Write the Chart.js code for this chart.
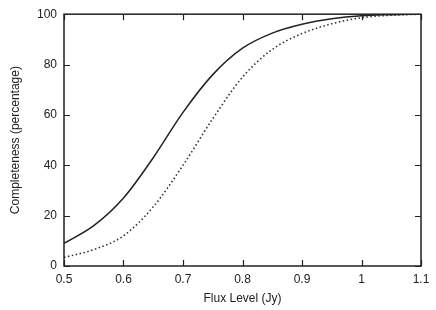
<!DOCTYPE html>
<html>
<head>
<meta charset="utf-8">
<script src="https://cdn.jsdelivr.net/npm/chart.js@4/dist/chart.umd.min.js"></script>
<style>
  html, body { margin: 0; padding: 0; background: #fff; }
  #wrap { width: 436px; height: 310px; position: relative; }
</style>
</head>
<body>
<div id="wrap"><canvas id="chart"></canvas></div>
<script>
// flux levels (Jy) and completeness (%)
var fluxLevels = [0.5, 0.55, 0.6, 0.65, 0.7, 0.75, 0.8, 0.85, 0.9, 0.95, 1.0, 1.05, 1.1];
var solidCurve = [9, 16, 27, 43, 61, 76, 86.5, 92.5, 96, 98.2, 99.4, 99.8, 100];
var dottedCurve = [3.4, 6.5, 12, 23.5, 40, 58.5, 75, 86, 92.3, 96.2, 98.6, 99.6, 100];
var xTicks = [0.5, 0.6, 0.7, 0.8, 0.9, 1, 1.1];
var yTicks = [0, 20, 40, 60, 80, 100];

function toPoints(ys) {
  return fluxLevels.map(function(x, i) { return { x: x, y: ys[i] }; });
}

// gnuplot style frame with inward ticks on all four sides
var framePlugin = {
  id: 'frame',
  afterDatasetsDraw: function(chart) {
    var ctx = chart.ctx;
    var area = chart.chartArea;
    var xs = chart.scales.x, ys = chart.scales.y;
    var len = 6;
    ctx.save();
    ctx.strokeStyle = '#222';
    ctx.lineWidth = 1.5;
    ctx.strokeRect(area.left, area.top, area.right - area.left, area.bottom - area.top);
    ctx.lineWidth = 1.2;
    ctx.beginPath();
    xTicks.forEach(function(v) {
      var px = Math.round(xs.getPixelForValue(v)) + 0.5;
      ctx.moveTo(px, area.bottom); ctx.lineTo(px, area.bottom - len);
      ctx.moveTo(px, area.top); ctx.lineTo(px, area.top + len);
    });
    yTicks.forEach(function(v) {
      var py = Math.round(ys.getPixelForValue(v)) + 0.5;
      ctx.moveTo(area.left, py); ctx.lineTo(area.left + len, py);
      ctx.moveTo(area.right, py); ctx.lineTo(area.right - len, py);
    });
    ctx.stroke();
    ctx.restore();
  }
};

var font = { family: "'Liberation Sans', Arial, sans-serif", size: 12 };

new Chart(document.getElementById('chart'), {
  type: 'line',
  data: {
    datasets: [{
      data: toPoints(solidCurve),
      borderColor: '#222',
      borderWidth: 1.5,
      pointRadius: 0,
      cubicInterpolationMode: 'monotone'
    }, {
      data: toPoints(dottedCurve),
      borderColor: '#333',
      borderWidth: 1.6,
      borderDash: [1.5, 2.5],
      pointRadius: 0,
      cubicInterpolationMode: 'monotone'
    }]
  },
  options: {
    responsive: true,
    maintainAspectRatio: false,
    animation: false,
    layout: { padding: { top: 11, right: 15, left: 0, bottom: 4 } },
    plugins: { legend: { display: false }, tooltip: { enabled: false } },
    scales: {
      x: {
        type: 'linear',
        min: 0.5, max: 1.1,
        afterBuildTicks: function(s) { s.ticks = xTicks.map(function(v) { return { value: v }; }); },
        afterFit: function(s) { s.height = 40; },
        grid: { display: false, drawTicks: false },
        border: { display: false },
        ticks: {
          color: '#222', font: font, padding: 6, maxRotation: 0,
          callback: function(v) { return String(Math.round(v * 10) / 10); }
        },
        title: { display: true, text: 'Flux Level (Jy)', color: '#222', font: font, padding: { top: 2, bottom: 0 } }
      },
      y: {
        min: 0, max: 100,
        afterBuildTicks: function(s) { s.ticks = yTicks.map(function(v) { return { value: v }; }); },
        afterFit: function(s) { s.width = 64; },
        grid: { display: false, drawTicks: false },
        border: { display: false },
        ticks: { color: '#222', font: font, padding: 7 },
        title: { display: true, text: 'Completeness (percentage)', color: '#222', font: font, padding: { top: 8, bottom: 0 } }
      }
    }
  },
  plugins: [framePlugin]
});
</script>
</body>
</html>
